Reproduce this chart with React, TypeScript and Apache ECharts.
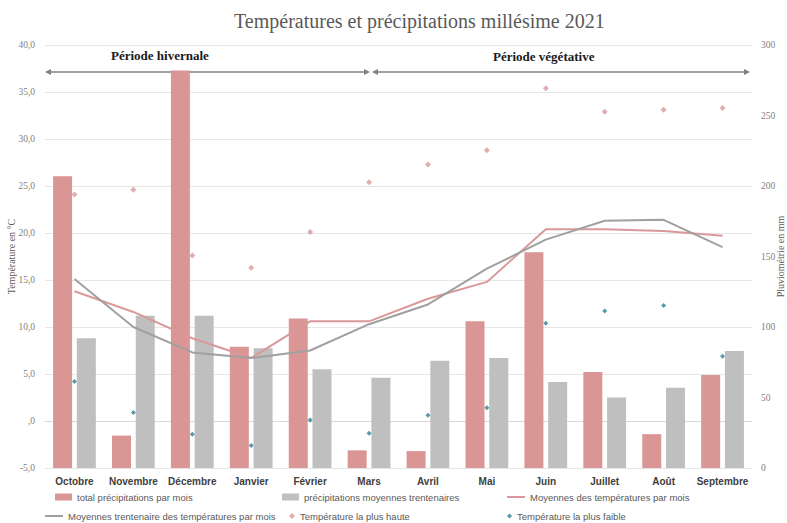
import React, { useEffect, useRef } from "react";
import * as echarts from "echarts";

const months = ["Octobre", "Novembre", "Décembre", "Janvier", "Février", "Mars", "Avril", "Mai", "Juin", "Juillet", "Août", "Septembre"];
const precipTotal = [207, 23, 282, 86, 106, 12.5, 12, 104, 153, 68, 24, 66];
const precipNormal = [92, 108, 108, 85, 70, 64, 76, 78, 61, 50, 57, 83];
const tempMean = [13.8, 11.6, 8.8, 6.7, 10.6, 10.6, 13.0, 14.8, 20.4, 20.4, 20.2, 19.7];
const tempNormal = [15.1, 10.0, 7.3, 6.7, 7.5, 10.3, 12.4, 16.2, 19.3, 21.3, 21.4, 18.5];
const tempMax = [24.1, 24.6, 17.6, 16.3, 20.1, 25.4, 27.3, 28.8, 35.4, 32.9, 33.1, 33.3];
const tempMin = [4.2, 0.9, -1.4, -2.6, 0.1, -1.3, 0.6, 1.4, 10.4, 11.7, 12.3, 6.9];

const S_PT = "total précipitations par mois";
const S_PN = "précipitations moyennes trentenaires";
const S_TM = "Moyennes des températures par mois";
const S_TN = "Moyennes trentenaire des températures par mois";
const S_MAX = "Température la plus haute";
const S_MIN = "Température la plus faible";

const SANS = "'Liberation Sans', Arial, sans-serif";
const SERIF = "'Liberation Serif', 'DejaVu Serif', serif";

const PINK = "#DA9694";
const GREY = "#BFBFBF";
const PINK_LINE = "#D9999A";
const GREY_LINE = "#A0A0A0";
const TEAL = "#2F7F8F";
const ARROW = "#808080";

export default function App() {
  const ref = useRef<HTMLDivElement>(null);
  useEffect(() => {
    document.body.style.margin = "0";
    if (!ref.current) return;
    const chart = echarts.init(ref.current, null, { renderer: "svg" });
    const legendText = { fontFamily: SANS, fontSize: 9.5, color: "#595959" };
    const mkLegend = (name: string, left: number, top: number, extra: any = {}) => ({
      data: [name],
      left,
      top,
      itemGap: 5,
      padding: 0,
      textStyle: legendText,
      selectedMode: false,
      ...extra,
    });
    const arrowY = 72;
    const head = (x: number, dir: number) => ({
      type: "polygon",
      shape: { points: [[x, arrowY], [x - dir * 6, arrowY - 3], [x - dir * 6, arrowY + 3]] },
      style: { fill: ARROW },
    });
    chart.setOption({
      animation: false,
      title: {
        text: "Températures et précipitations millésime 2021",
        left: 229,
        top: 6,
        textStyle: { fontFamily: SERIF, fontSize: 20, fontWeight: "normal", color: "#595959" },
      },
      grid: { left: 45, right: 35, top: 45, bottom: 55, containLabel: false, outerBoundsMode: "none" },
      legend: [
        mkLegend(S_PT, 55, 492, { itemWidth: 17, itemHeight: 7, icon: "rect" }),
        mkLegend(S_PN, 282, 492, { itemWidth: 17, itemHeight: 7, icon: "rect" }),
        mkLegend(S_TM, 507, 492, { itemWidth: 18, itemHeight: 2, icon: "rect" }),
        mkLegend(S_TN, 45, 511, { itemWidth: 18, itemHeight: 2, icon: "rect" }),
        mkLegend(S_MAX, 289, 511, { itemWidth: 6, itemHeight: 6, icon: "diamond" }),
        mkLegend(S_MIN, 507, 511, { itemWidth: 5, itemHeight: 5, icon: "diamond" }),
      ],
      xAxis: {
        type: "category",
        data: months,
        axisTick: { show: false },
        axisLine: { show: true, lineStyle: { color: "#D9D9D9" } },
        axisLabel: { interval: 0, fontFamily: SANS, fontSize: 10, fontWeight: "bold", color: "#404040", margin: 8 },
      },
      yAxis: [
        {
          type: "value",
          min: -5,
          max: 40,
          interval: 5,
          name: "Température en °C",
          nameLocation: "middle",
          nameGap: 29,
          nameRotate: 90,
          nameMoveOverlap: false,
          nameTextStyle: { fontFamily: SERIF, fontSize: 10, color: "#595959" },
          axisLine: { show: false },
          axisTick: { show: false },
          axisLabel: {
            fontFamily: SERIF,
            fontSize: 9.5,
            color: "#7F7F7F",
            margin: 10,
            formatter: (v: number) => (v === 0 ? ",0" : v.toFixed(1).replace(".", ",")),
          },
          splitLine: { lineStyle: { color: "#E6E6E6" } },
        },
        {
          type: "value",
          min: 0,
          max: 300,
          interval: 50,
          name: "Pluviométrie en mm",
          nameLocation: "middle",
          nameGap: 23,
          nameRotate: 90,
          nameMoveOverlap: false,
          nameTextStyle: { fontFamily: SERIF, fontSize: 10, color: "#595959" },
          axisLine: { show: false },
          axisTick: { show: false },
          axisLabel: { fontFamily: SERIF, fontSize: 9.5, color: "#7F7F7F", margin: 9 },
          splitLine: { show: false },
        },
      ],
      series: [
        {
          name: S_PT,
          type: "bar",
          yAxisIndex: 1,
          data: precipTotal,
          barWidth: 19,
          barGap: "25%",
          itemStyle: { color: PINK },
        },
        {
          name: S_PN,
          type: "bar",
          yAxisIndex: 1,
          data: precipNormal,
          barWidth: 19,
          itemStyle: { color: GREY },
        },
        {
          name: S_TM,
          type: "line",
          yAxisIndex: 0,
          data: tempMean,
          symbol: "none",
          lineStyle: { color: PINK_LINE, width: 2 },
          itemStyle: { color: PINK_LINE },
        },
        {
          name: S_TN,
          type: "line",
          yAxisIndex: 0,
          data: tempNormal,
          symbol: "none",
          lineStyle: { color: GREY_LINE, width: 2 },
          itemStyle: { color: GREY_LINE },
        },
        {
          name: S_MAX,
          type: "scatter",
          yAxisIndex: 0,
          data: tempMax,
          symbol: "diamond",
          symbolSize: 6,
          itemStyle: { color: PINK_LINE },
        },
        {
          name: S_MIN,
          type: "scatter",
          yAxisIndex: 0,
          data: tempMin,
          symbol: "diamond",
          symbolSize: 5,
          itemStyle: { color: TEAL },
        },
      ],
      graphic: [
        {
          type: "text",
          left: 111,
          top: 49,
          style: { text: "Période hivernale", font: `bold 13px ${SERIF}`, fill: "#1A1A1A" },
        },
        {
          type: "text",
          left: 493,
          top: 50,
          style: { text: "Période végétative", font: `bold 13px ${SERIF}`, fill: "#1A1A1A" },
        },
        { type: "line", shape: { x1: 47, y1: arrowY, x2: 368, y2: arrowY }, style: { stroke: ARROW, lineWidth: 1.5 } },
        head(45, -1),
        head(370, 1),
        { type: "line", shape: { x1: 376, y1: arrowY, x2: 748, y2: arrowY }, style: { stroke: ARROW, lineWidth: 1.5 } },
        head(372, -1),
        head(750, 1),
      ],
    });
    return () => chart.dispose();
  }, []);
  return <div ref={ref} style={{ width: 787, height: 523 }} />;
}
